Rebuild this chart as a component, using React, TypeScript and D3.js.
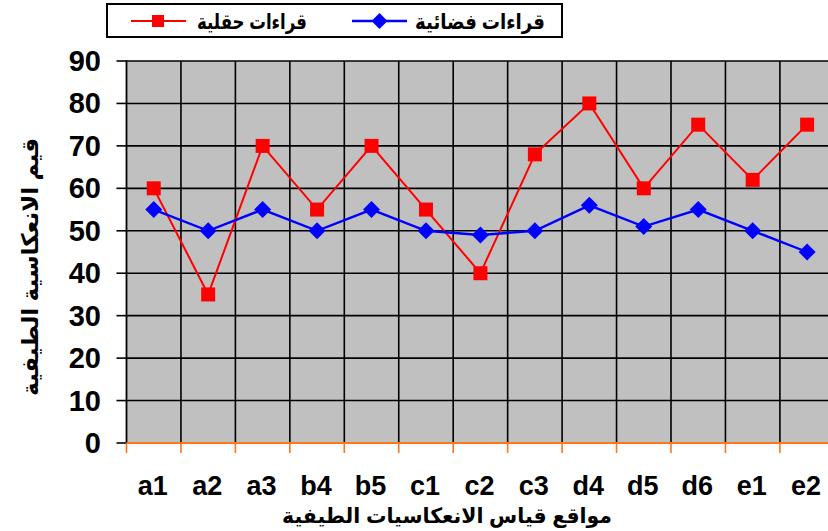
import React from "react";
import * as d3 from "d3";

const categories = ["a1", "a2", "a3", "b4", "b5", "c1", "c2", "c3", "d4", "d5", "d6", "e1", "e2"];
const fieldValues = [60, 35, 70, 55, 70, 55, 40, 68, 80, 60, 75, 62, 75];
const satelliteValues = [55, 50, 55, 50, 55, 50, 49, 50, 56, 51, 55, 50, 45];
const yTicks = [0, 10, 20, 30, 40, 50, 60, 70, 80, 90];
const fieldLabel = "قراءات حقلية";
const satelliteLabel = "قراءات فضائية";
const yTitle = "قيم الانعكاسية الطيفية";
const xTitle = "مواقع قياس الانعكاسيات الطيفية";

const W = 828;
const H = 531;
const left = 126.5;
const step = 54.45;
const right = left + step * categories.length;
const top = 61;
const bottom = 443;

export default function App() {
  const x = d3.scaleBand<string>().domain(categories).range([left, right]).padding(0);
  const y = d3.scaleLinear().domain([0, 90]).range([bottom, top]);
  const cx = (c: string) => (x(c) as number) + x.bandwidth() / 2;
  const line = d3
    .line<number>()
    .x((_, i) => cx(categories[i]))
    .y((d) => y(d));
  const boundaries = d3.range(categories.length + 1).map((i) => left + i * x.bandwidth());
  const font = "'Liberation Sans', Arial, 'DejaVu Sans', sans-serif";
  const orange = "#FF7518";
  const diamond = (px: number, py: number, r: number) =>
    `M${px},${py - r}L${px + r},${py}L${px},${py + r}L${px - r},${py}Z`;

  return (
    <svg
      width={W}
      height={H}
      style={{ position: "absolute", left: 0, top: 0, background: "#fff" }}
      fontFamily={font}
    >
      <rect x={left} y={top} width={right - left} height={bottom - top} fill="#C0C0C0" />
      {yTicks.slice(1).map((t) => (
        <line key={"h" + t} x1={left} x2={right} y1={y(t)} y2={y(t)} stroke="#000" strokeWidth={1.6} />
      ))}
      {boundaries.slice(1).map((b, i) => (
        <line key={"v" + i} x1={b} x2={b} y1={top} y2={bottom} stroke="#000" strokeWidth={1.6} />
      ))}
      {/* y axis */}
      <line x1={left} x2={left} y1={top - 0.8} y2={bottom} stroke="#000" strokeWidth={1.8} />
      {yTicks.map((t) => (
        <g key={"yt" + t}>
          <line x1={left - 10} x2={left} y1={y(t)} y2={y(t)} stroke="#000" strokeWidth={1.6} />
          <text
            x={101}
            y={y(t)}
            textAnchor="end"
            dominantBaseline="central"
            fontSize={29}
            fontWeight="bold"
            fill="#000"
          >
            {t}
          </text>
        </g>
      ))}
      {/* x axis */}
      <line x1={left} x2={right} y1={bottom} y2={bottom} stroke={orange} strokeWidth={2} />
      {boundaries.map((b, i) => (
        <line key={"xt" + i} x1={b} x2={b} y1={bottom} y2={bottom + 10} stroke={orange} strokeWidth={1.6} />
      ))}
      {categories.map((c) => (
        <text
          key={"xl" + c}
          x={cx(c) - 1}
          y={495}
          textAnchor="middle"
          fontSize={27}
          fontWeight="bold"
          fill="#000"
        >
          {c}
        </text>
      ))}
      {/* series */}
      <path d={line(fieldValues) || ""} fill="none" stroke="#FF0000" strokeWidth={2} />
      {fieldValues.map((v, i) => (
        <rect
          key={"fm" + i}
          x={cx(categories[i]) - 7}
          y={y(v) - 7}
          width={14}
          height={14}
          fill="#FF0000"
        />
      ))}
      <path d={line(satelliteValues) || ""} fill="none" stroke="#0000FF" strokeWidth={2.4} />
      {satelliteValues.map((v, i) => (
        <path key={"sm" + i} d={diamond(cx(categories[i]), y(v), 8.5)} fill="#0000FF" />
      ))}
      {/* axis titles */}
      <text
        transform={`translate(30,267) rotate(-90)`}
        textAnchor="middle"
        dominantBaseline="central"
        fontSize={23}
        fontWeight="bold"
        fill="#000"
        direction="rtl"
      >
        {yTitle}
      </text>
      <text
        x={447}
        y={523}
        textAnchor="middle"
        fontSize={21}
        fontWeight="bold"
        fill="#000"
        direction="rtl"
        textLength={330}
        lengthAdjust="spacingAndGlyphs"
      >
        {xTitle}
      </text>
      {/* legend */}
      <rect x={107} y={4} width={455} height={33} fill="#fff" stroke="#000" strokeWidth={2} />
      <line x1={131} x2={186} y1={21} y2={21} stroke="#FF0000" strokeWidth={2} />
      <rect x={152} y={15} width={12} height={12} fill="#FF0000" />
      <text
        x={307}
        y={29}
        textAnchor="start"
        fontSize={21}
        fontWeight="bold"
        fill="#000"
        direction="rtl"
        textLength={110}
        lengthAdjust="spacingAndGlyphs"
      >
        {fieldLabel}
      </text>
      <line x1={352} x2={407} y1={21} y2={21} stroke="#0000FF" strokeWidth={2.4} />
      <path d={diamond(379.5, 21, 8)} fill="#0000FF" />
      <text
        x={545}
        y={29}
        textAnchor="start"
        fontSize={21}
        fontWeight="bold"
        fill="#000"
        direction="rtl"
        textLength={130}
        lengthAdjust="spacingAndGlyphs"
      >
        {satelliteLabel}
      </text>
    </svg>
  );
}
